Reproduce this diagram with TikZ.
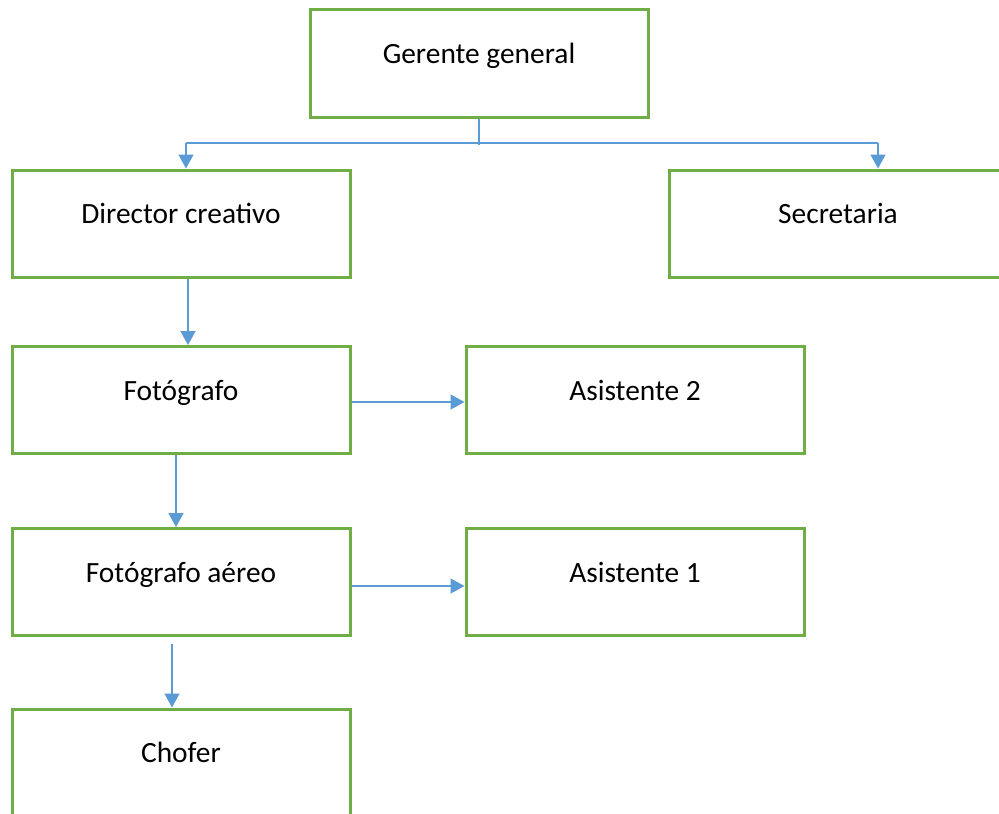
\documentclass[tikz,border=0pt]{standalone}
\usepackage{fontspec}
\setmainfont{Carlito}
\usetikzlibrary{arrows.meta,calc}
\definecolor{boxgreen}{HTML}{70AD47}
\definecolor{linkblue}{HTML}{5B9BD5}
\tikzset{
  orgbox/.style={draw=boxgreen, line width=3pt, rectangle, minimum width=338pt, minimum height=107pt,
    inner sep=0pt, text height=12pt, text depth=12pt, font=\fontsize{29.4}{34}\selectfont},
  link/.style={draw=linkblue, line width=1.5pt},
  arr/.style={link, -{Triangle[length=14pt,width=15pt]}}
}
\begin{document}
\begin{tikzpicture}[x=1pt,y=-1pt]
\clip (0,0) rectangle (999,814);
\fill[white] (0,0) rectangle (999,814);
\node[orgbox, minimum height=108pt] (g) at (479,63) {Gerente general};
\node[orgbox] (d) at (181,223.5) {Director creativo};
\node[orgbox] (s) at (838,223.5) {Secretaria};
\node[orgbox] (f) at (181,400) {Fotógrafo};
\node[orgbox] (a2) at (635,400) {Asistente 2};
\node[orgbox] (fa) at (181,582) {Fotógrafo aéreo};
\node[orgbox] (a1) at (635,582) {Asistente 1};
\node[orgbox] (c) at (181,762.5) {Chofer};
\coordinate (j) at (479,145);
\coordinate (jl) at (186,143);
\coordinate (jr) at (878,143);
\draw[link] (g.south) -- (j);
\draw[link] (jl) -- (jr);
\draw[arr] (jl) -- (jl |- d.north);
\draw[arr] (jr) -- (jr |- s.north);
\draw[arr] ([xshift=7pt]d.south) -- ([xshift=7pt]d.south |- f.north);
\draw[arr] ([yshift=-2pt]f.east) -- ([yshift=-2pt]f.east -| a2.west);
\draw[arr] ([xshift=-5pt]f.south) -- ([xshift=-5pt]f.south |- fa.north);
\draw[arr] ([yshift=-4pt]fa.east) -- ([yshift=-4pt]fa.east -| a1.west);
\draw[arr] ([xshift=-9pt,yshift=-7pt]fa.south) -- ([xshift=-9pt]fa.south |- c.north);
\end{tikzpicture}
\end{document}
